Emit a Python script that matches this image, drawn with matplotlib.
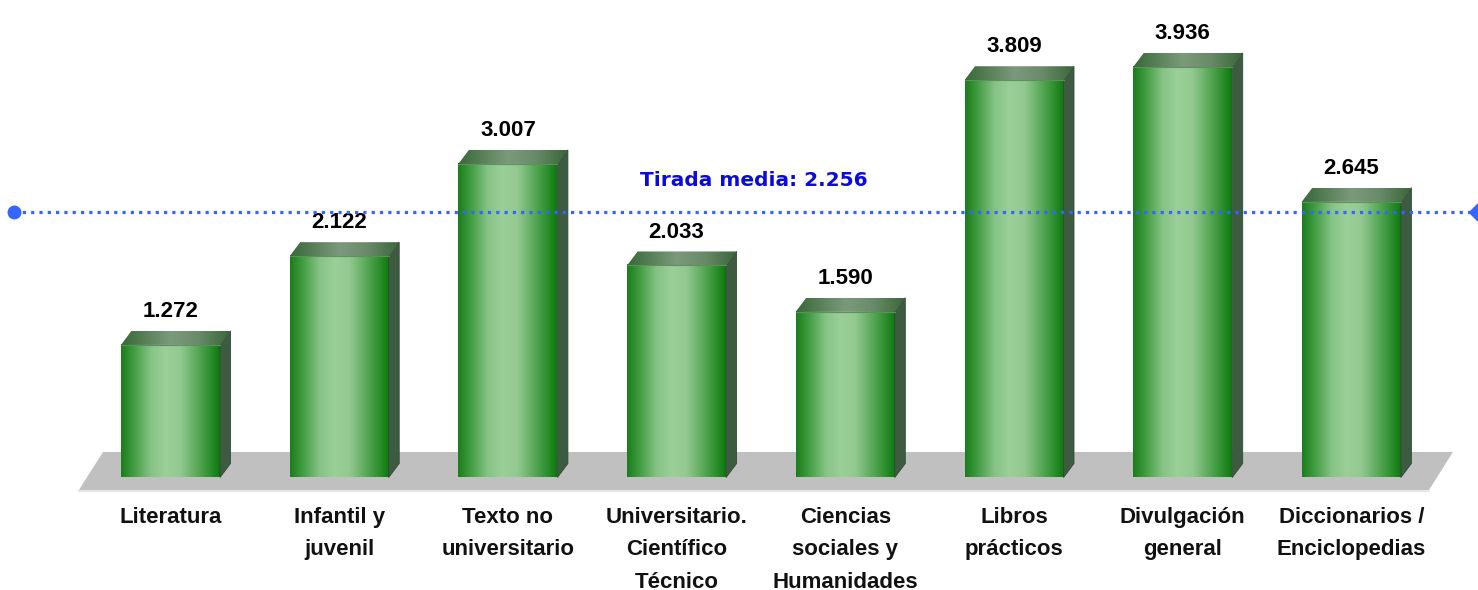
import matplotlib.pyplot as plt
import numpy as np
from matplotlib.colors import LinearSegmentedColormap
from matplotlib.patches import Polygon

categories = ["Literatura", "Infantil y\njuvenil", "Texto no\nuniversitario",
              "Universitario.\nCientífico\nTécnico", "Ciencias\nsociales y\nHumanidades",
              "Libros\nprácticos", "Divulgación\ngeneral", "Diccionarios /\nEnciclopedias"]
values = [1.272, 2.122, 3.007, 2.033, 1.590, 3.809, 3.936, 2.645]
value_labels = ["1.272", "2.122", "3.007", "2.033", "1.590", "3.809", "3.936", "2.645"]
average = 2.256
average_label = "Tirada media: 2.256"

plt.rcParams['font.family'] = ['Liberation Sans', 'DejaVu Sans']

W, H = 1478, 590
fig = plt.figure(figsize=(W / 100, H / 100), dpi=100)
ax = fig.add_axes([0, 0, 1, 1])
ax.axis("off")

# pixel layout of the original: bar spacing ~168.7 px, 104.3 px per unit, zero at y=477.5
px_x, px_y = 168.7, 104.3
x0, y0 = 170.5, 477.5
ax.set_xlim(-x0 / px_x, (W - x0) / px_x)
ax.set_ylim(-(H - y0) / px_y, y0 / px_y)

bw = 99 / px_x
dx, dy = 10.5 / px_x, 14 / px_y
n = len(values)

front_cmap = LinearSegmentedColormap.from_list("front", [
    (0.0, "#1b7d1b"), (0.12, "#3f9b3f"), (0.3, "#86c386"), (0.45, "#9bcf98"),
    (0.6, "#93c991"), (0.85, "#3f9a3f"), (1.0, "#0d7a0d")])
top_cmap = LinearSegmentedColormap.from_list("top", [
    (0.0, "#386838"), (0.45, "#7b9a7b"), (0.7, "#6a8b6a"), (1.0, "#386638")])

# floor
floor = Polygon([(-0.543, -0.12), (n - 1 + 0.46, -0.12), (n - 1 + 0.602, 0.2445), (-0.40, 0.2445)],
                closed=True, facecolor="#c0c0c0", edgecolor="none", zorder=1)
ax.add_patch(floor)
ax.plot([-0.543, n - 1 + 0.46], [-0.13, -0.13], color="#e6e6e6", lw=1.5, zorder=1)

grad = np.linspace(0, 1, 256).reshape(1, -1)
for i, v in enumerate(values):
    left, right = i - bw / 2, i + bw / 2
    ax.imshow(grad, cmap=front_cmap, aspect="auto", extent=[left, right, 0, v],
              zorder=3, interpolation="bilinear")
    side = Polygon([(right, 0), (right + dx, dy), (right + dx, v + dy), (right, v)],
                   closed=True, facecolor="#3d5b40", edgecolor="#2f4a33", lw=0.6, zorder=3)
    ax.add_patch(side)
    top = Polygon([(left, v), (right, v), (right + dx, v + dy), (left + dx, v + dy)],
                  closed=True, facecolor="none", edgecolor="none", zorder=3)
    ax.add_patch(top)
    im = ax.imshow(grad, cmap=top_cmap, aspect="auto",
                   extent=[left, right + dx, v, v + dy], zorder=3, interpolation="bilinear")
    im.set_clip_path(top)
    ax.plot([left, right], [v, v], color="#5f8f5f", lw=0.8, zorder=4)

    ax.annotate(value_labels[i], (i, v), xytext=(0, 24), textcoords="offset points",
                ha="center", va="center", fontsize=16, fontweight="bold", color="black", zorder=5)
    ax.annotate(categories[i], (i, 0), xytext=(0, -21), textcoords="offset points",
                ha="center", va="top", fontsize=16, fontweight="bold", color="#111111",
                linespacing=1.72, zorder=5)

# average line (drawn as an overlay band in the original, above the bars)
line_y = 1 - 212 / H
ax.plot([14 / W, 1], [line_y, line_y], transform=ax.transAxes, color="#3366ff",
        lw=2.3, dashes=(1, 1.6), zorder=6, clip_on=False)
ax.plot([14 / W], [line_y], transform=ax.transAxes, marker="o", ms=9,
        color="#3366ff", zorder=6, clip_on=False)
ax.plot([1], [line_y], transform=ax.transAxes, marker="D", ms=9,
        color="#3366ff", zorder=6, clip_on=True)
ax.text(754 / W, 1 - 181 / H, average_label, transform=ax.transAxes, ha="center", va="center",
        fontsize=14.5, fontweight="bold", color="#0a0adf", family=["DejaVu Sans"], zorder=6)

fig.savefig("out.png", dpi=100)
